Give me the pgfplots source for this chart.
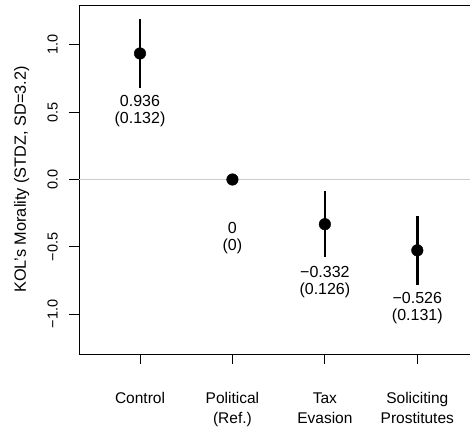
\documentclass[border=0pt]{standalone}
\usepackage{fontspec}
\setmainfont{Liberation Sans}
\usepackage{pgfplots}
\pgfplotsset{compat=1.18}
\begin{document}
\begin{tikzpicture}
\begin{axis}[
  scale only axis, width=391bp, height=349bp,
  xmin=0.34, xmax=4.57, ymin=-1.296, ymax=1.296,
  axis y line*=left, axis x line*=box,
  axis line style={black, line width=0.9bp},
  tick align=outside, major tick length=10bp,
  tick style={black, line width=0.9bp},
  xtick pos=bottom, ytick pos=left,
  xtick={1,2,3,4},
  xticklabels={\strut Control, {\strut Political\\(Ref.)}, {\strut Tax\\Evasion}, {\strut Soliciting\\Prostitutes}},
  xticklabel style={align=center, anchor=north, inner sep=0pt, font=\fontsize{15.5bp}{20bp}\selectfont},
  xticklabel shift=25.5bp,
  ytick={-1,-0.5,0,0.5,1},
  yticklabels={−1.0,−0.5,0.0,0.5,1.0},
  yticklabel style={rotate=90, anchor=south, inner sep=0pt, font=\fontsize{14.5bp}{17bp}\selectfont},
  yticklabel shift=11bp,
  ylabel={KOL\symbol{39}s Morality (STDZ, SD=3.2)},
  ylabel style={at={(axis description cs:-0.1466,0.5)}, anchor=center, font=\fontsize{16.3bp}{19bp}\selectfont},
  clip=false,
]
\coordinate (bl) at (rel axis cs:0,0);
\coordinate (tr) at (rel axis cs:1,1);
\addplot[black!20, line width=0.9bp] coordinates {(0.34,0) (4.57,0)};
\addplot[only marks, mark=*, mark size=5.8bp, black,
  error bars/.cd, y dir=both, y explicit, error mark=none,
  error bar style={line width=2.6bp, black}]
  table[x=x, y=y, y error=e] {
x y e
1 0.936 0.2587
2 0 0
3 -0.332 0.2470
4 -0.526 0.2568
};
\tikzset{ann/.style={align=center, anchor=center, inner sep=0pt, font=\fontsize{16bp}{17.5bp}\selectfont}}
\node[ann] at (axis cs:1,0.508) {0.936\\(0.132)};
\node[ann] at (axis cs:2,-0.435) {0\\(0)};
\node[ann] at (axis cs:3,-0.760) {−0.332\\(0.126)};
\node[ann] at (axis cs:4,-0.954) {−0.526\\(0.131)};
\end{axis}
\pgfresetboundingbox
\path[use as bounding box] ([xshift=-79bp,yshift=-76bp]bl) rectangle ([yshift=5bp]tr);
\end{tikzpicture}
\end{document}
